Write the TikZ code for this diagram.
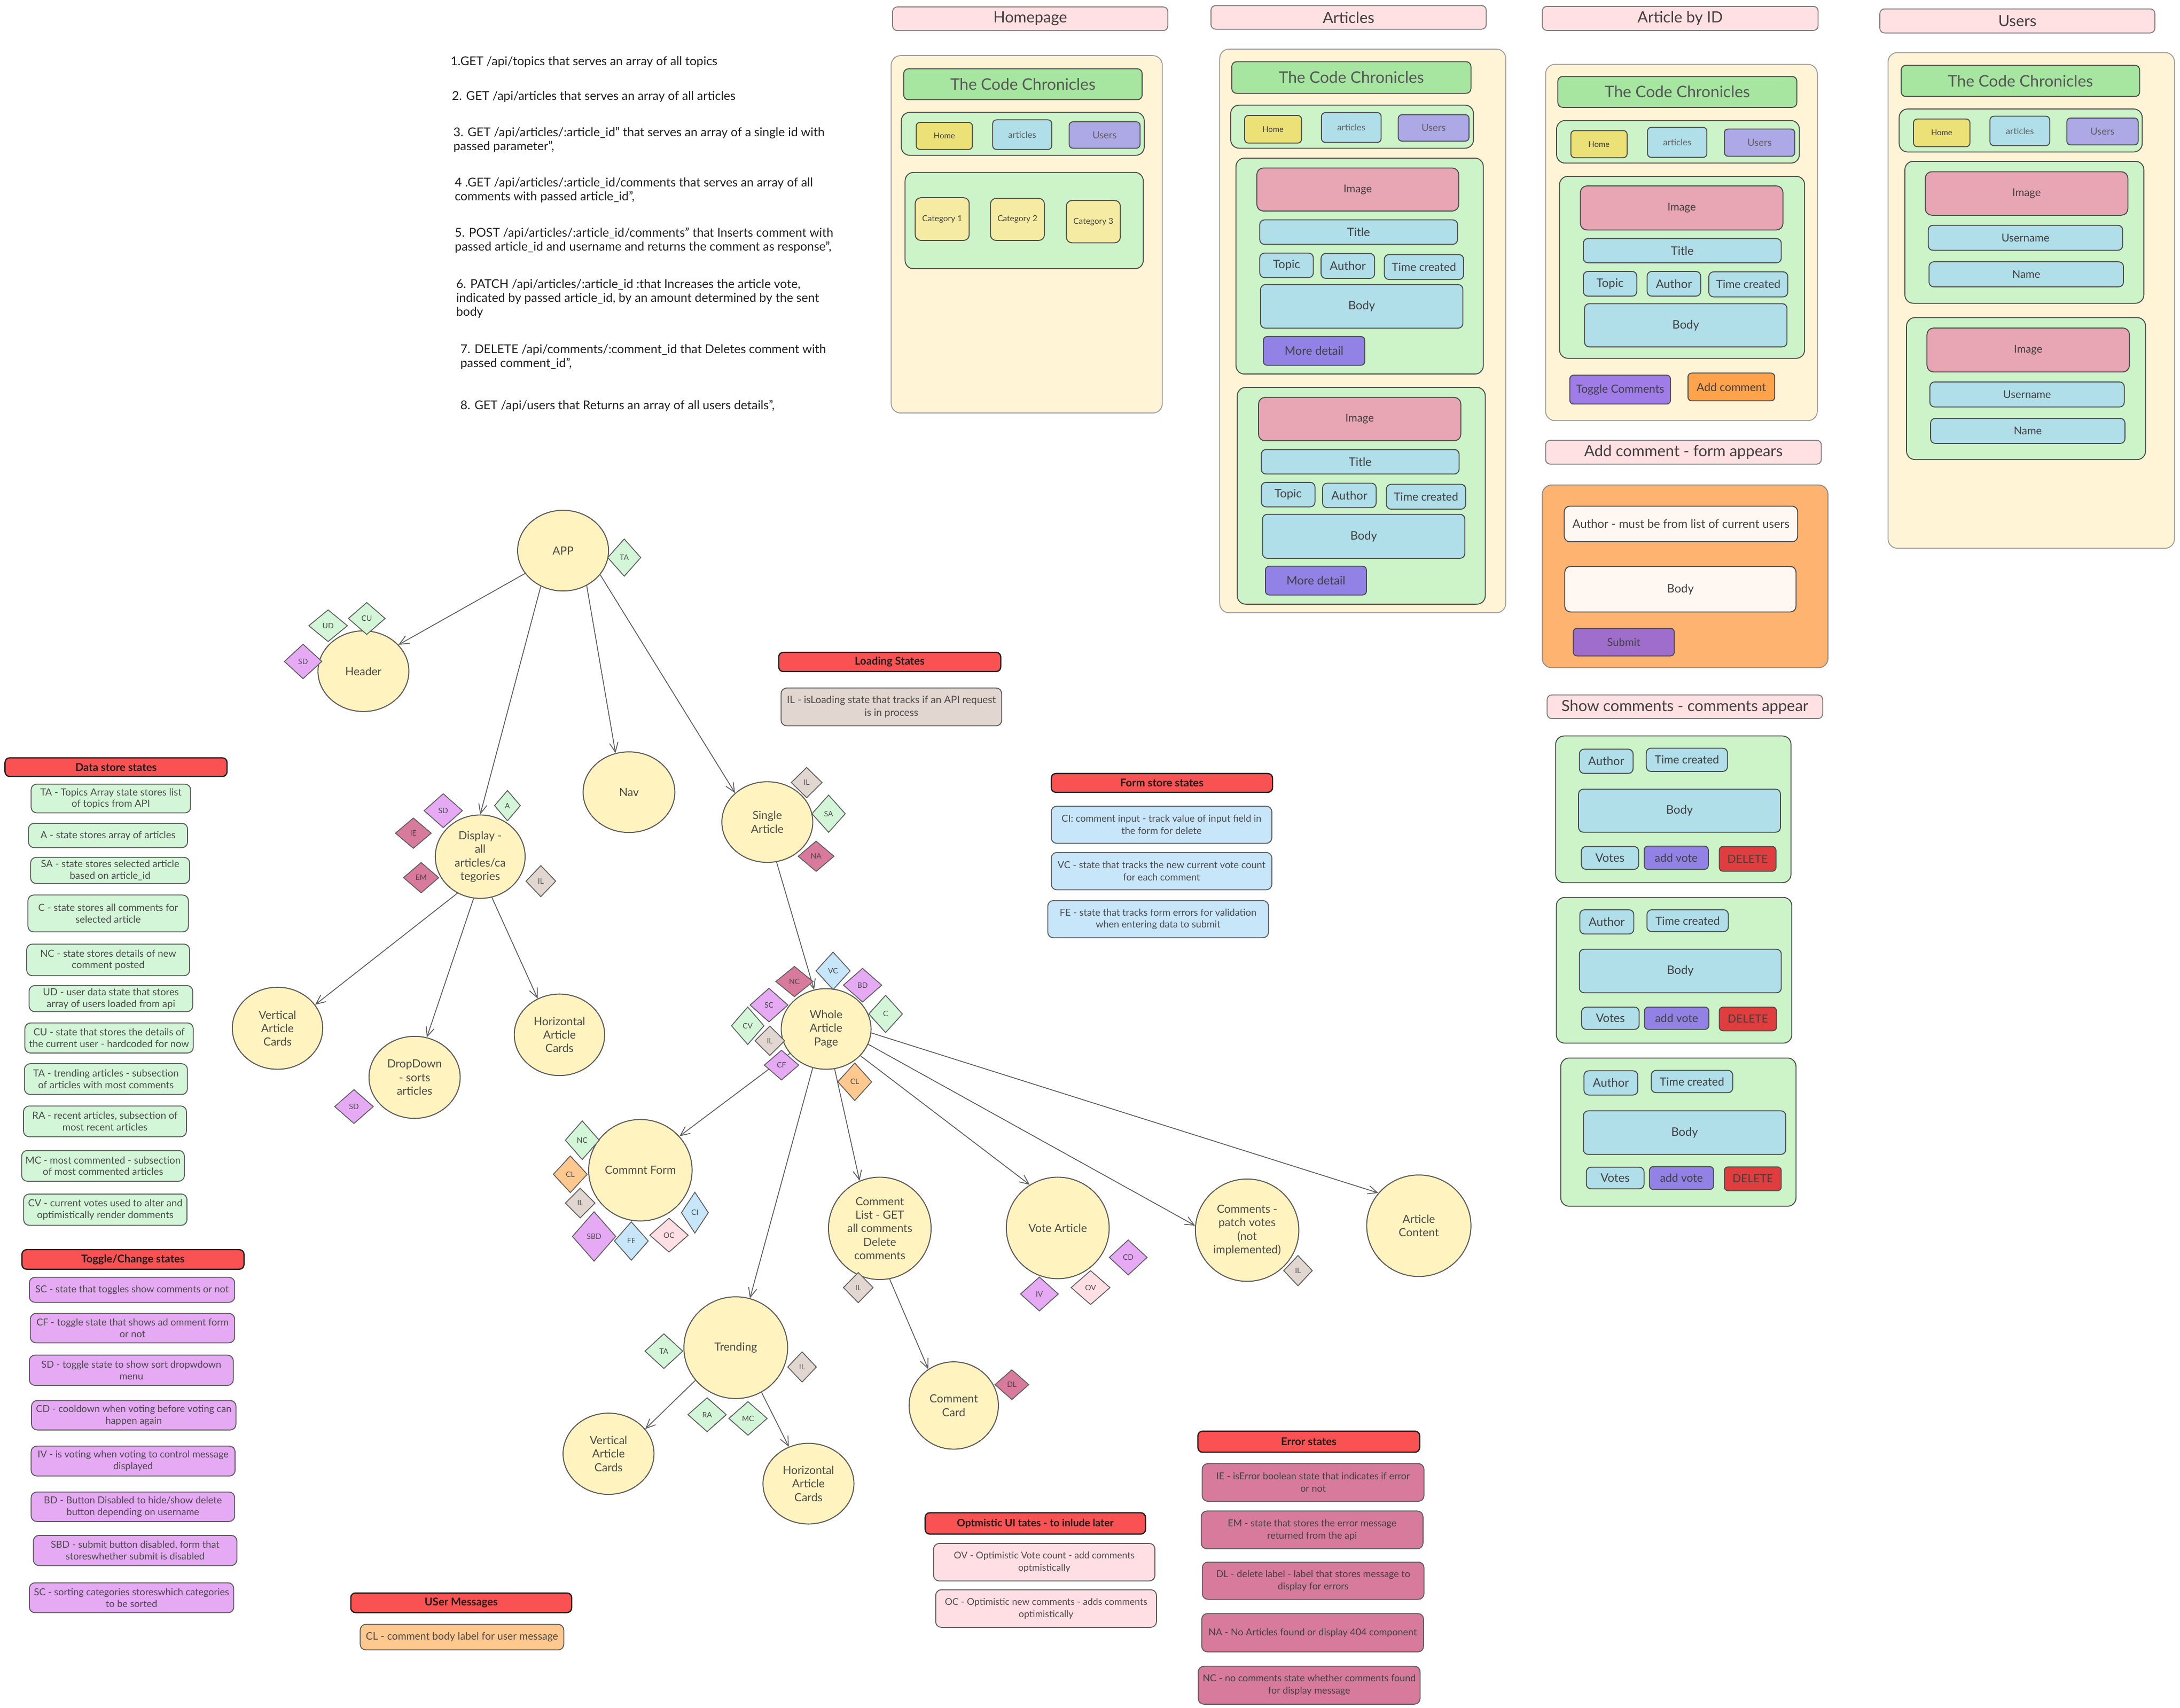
\documentclass[tikz,border=0pt]{standalone}
\usepackage{fontspec}
\setmainfont{Lato}
\usetikzlibrary{shapes.geometric,arrows.meta}
\definecolor{ink}{HTML}{1E1E1E}
\definecolor{txt}{HTML}{4A4A4A}
\definecolor{edge}{HTML}{5C5C5C}
\definecolor{compfill}{HTML}{FFF3BF}
\definecolor{gTag}{HTML}{D3F6D8}
\definecolor{pTag}{HTML}{E6A9F4}
\definecolor{rTag}{HTML}{D87A9B}
\definecolor{tTag}{HTML}{E2D6D1}
\definecolor{bTag}{HTML}{C8E6FA}
\definecolor{oTag}{HTML}{FFC88F}
\definecolor{kTag}{HTML}{FFDFE3}
\definecolor{hred}{HTML}{FA5252}
\definecolor{wtitle}{HTML}{FFE0E3}
\definecolor{wcream}{HTML}{FFF5D6}
\definecolor{whead}{HTML}{A6E6A1}
\definecolor{wgreen}{HTML}{CDF3C8}
\definecolor{whome}{HTML}{ECE176}
\definecolor{wblue}{HTML}{B0DFEA}
\definecolor{wlav}{HTML}{ADA8E6}
\definecolor{wcat}{HTML}{F6EBA2}
\definecolor{wimg}{HTML}{E8A5B3}
\definecolor{wmore}{HTML}{9382E6}
\definecolor{wtog}{HTML}{A07CE8}
\definecolor{wadd}{HTML}{FFA24C}
\definecolor{wform}{HTML}{FFB370}
\definecolor{winput}{HTML}{FFF7F2}
\definecolor{wsub}{HTML}{9F6DCC}
\definecolor{wdel}{HTML}{E03E3E}
\newcommand\pxu{0.05206cm}
\newcommand\bx[7]{\node[#2, minimum width=(#5-#3)*\pxu, minimum height=(#6-#4)*\pxu] (#1) at ({(#3+#5)/2},{(#4+#6)/2}) {#7};}
\newcommand\tg[7]{\node[tag, fill=#6, minimum width=2*#4*\pxu, minimum height=2*#5*\pxu] (#1) at (#2,#3) {#7};}
\newcommand\cp[6]{\node[comp, minimum width=2*#4*\pxu, minimum height=2*#5*\pxu] (#1) at (#2,#3) {#6};}
\tikzset{
  comp/.style={ellipse, draw=edge, fill=compfill, line width=1.1pt, inner sep=0pt, text=txt, align=center, font=\fontsize{12}{14.4}\selectfont},
  tag/.style={diamond, draw=edge, line width=0.9pt, inner sep=0pt, text=txt, font=\fontsize{8}{9}\selectfont},
  arr/.style={draw=edge, line width=0.9pt, -{Straight Barb[length=10pt,width=9pt]}},
  leg/.style={rectangle, rounded corners=6pt, draw=edge, line width=1pt, inner sep=0pt, text=txt, align=center},
  lds/.style={leg, fill=gTag, font=\fontsize{10.5}{12.3}\selectfont},
  ltg/.style={leg, fill=pTag, font=\fontsize{10.3}{12.5}\selectfont},
  lld/.style={leg, fill=tTag, font=\fontsize{10.8}{13.5}\selectfont},
  lfs/.style={leg, fill=bTag, font=\fontsize{10.3}{13}\selectfont},
  ler/.style={leg, fill=rTag, text=ink!85, font=\fontsize{10.2}{13}\selectfont},
  lop/.style={leg, fill=kTag, font=\fontsize{10}{13}\selectfont},
  lum/.style={leg, fill=oTag, font=\fontsize{11}{13}\selectfont},
  hdr/.style={rectangle, rounded corners=5pt, draw=ink, fill=hred, line width=1.3pt, inner sep=0pt, text=ink, font=\bfseries\fontsize{11.5}{13}\selectfont},
  api/.style={anchor=north west, inner sep=0pt, align=left, text=ink, font=\fontsize{13}{14.8}\selectfont},
  wf/.style={rectangle, rounded corners=5pt, draw=ink!80, line width=1pt, inner sep=0pt, text=ink!85, align=center},
  wtit/.style={wf, draw=edge!80, fill=wtitle, font=\fontsize{16.5}{18}\selectfont},
  wout/.style={wf, rounded corners=10pt, draw=edge!60, fill=wcream},
  whd/.style={wf, fill=whead, text=ink!75, font=\fontsize{17}{19}\selectfont},
  wgr/.style={wf, rounded corners=9pt, fill=wgreen},
  whm/.style={wf, rounded corners=4pt, fill=whome, font=\fontsize{8.5}{9}\selectfont},
  wat/.style={wf, rounded corners=4pt, fill=wblue, text=ink!70, font=\fontsize{9.5}{10}\selectfont},
  wus/.style={wf, rounded corners=4pt, fill=wlav, text=ink!70, font=\fontsize{10.5}{11}\selectfont},
  wct/.style={wf, rounded corners=6pt, fill=wcat, font=\fontsize{8.8}{9}\selectfont},
  wim/.style={wf, rounded corners=7pt, fill=wimg, font=\fontsize{11.5}{12}\selectfont},
  wbl/.style={wf, rounded corners=5pt, fill=wblue, font=\fontsize{12.5}{13}\selectfont},
  wtc/.style={wf, rounded corners=5pt, fill=wblue, font=\fontsize{12}{13}\selectfont},
  wmo/.style={wf, rounded corners=4pt, fill=wmore, font=\fontsize{12.5}{13}\selectfont},
  wtg/.style={wf, rounded corners=4pt, fill=wtog, font=\fontsize{12}{13}\selectfont},
  wad/.style={wf, rounded corners=4pt, fill=wadd, font=\fontsize{12}{13}\selectfont},
  wfo/.style={wf, rounded corners=10pt, draw=edge!70, fill=wform},
  win/.style={wf, rounded corners=6pt, fill=winput, font=\fontsize{12.5}{13}\selectfont},
  wsb/.style={wf, rounded corners=4pt, fill=wsub, font=\fontsize{11.5}{12}\selectfont},
  wav/.style={wf, rounded corners=4pt, fill=wmore, font=\fontsize{12}{13}\selectfont},
  wdl/.style={wf, rounded corners=4pt, fill=wdel, font=\fontsize{12}{13}\selectfont},
  wun/.style={wf, rounded corners=5pt, fill=wblue, font=\fontsize{11.5}{12}\selectfont},
}
\begin{document}
\begin{tikzpicture}[x=0.05206cm, y=-0.05206cm]
\useasboundingbox (0,0) rectangle (1568,1228.3);
\fill[white] (0,0) rectangle (1568,1228.3);

% ---------- API list ----------
\node[api] (api1) at (324,40.5) {1.GET /api/topics that serves an array of all topics};
\node[api] (api2) at (325,65.5) {2. GET /api/articles that serves an array of all articles};
\node[api] (api3) at (326,91.5) {3. GET /api/articles/:article\_id" that serves an array of a single id with\\passed parameter",};
\node[api] (api4) at (327,127.5) {4 .GET /api/articles/:article\_id/comments that serves an array of all\\comments with passed article\_id",};
\node[api] (api5) at (327,163.5) {5. POST /api/articles/:article\_id/comments" that Inserts comment with\\passed article\_id and username and returns the comment as response",};
\node[api] (api6) at (328,200.5) {6. PATCH /api/articles/:article\_id :that Increases the article vote,\\indicated by passed article\_id, by an amount determined by the sent\\body};
\node[api] (api7) at (331,247.5) {7. DELETE /api/comments/:comment\_id that Deletes comment with\\passed comment\_id",};
\node[api] (api8) at (331,287.5) {8. GET /api/users that Returns an array of all users details",};

% ---------- Homepage ----------
\bx{hpT}{wtit}{642}{5}{840}{22}{Homepage}
\bx{hpO}{wout}{641}{40}{836}{297}{}
\bx{hpH}{whd}{650}{49.5}{821.5}{71.7}{The Code Chronicles}
\bx{hpN}{wgr}{648.3}{80.8}{823}{111.7}{}
\bx{hpHome}{whm}{659}{88}{699.4}{107.5}{Home}
\bx{hpArt}{wat}{714}{86.2}{756.5}{107.5}{articles}
\bx{hpUsr}{wus}{769}{87.6}{820}{106.6}{Users}
\bx{hpC}{wgr}{651}{124}{822.3}{193.3}{}
\bx{hpC1}{wct}{658.3}{142.2}{697.1}{172.9}{Category 1}
\bx{hpC2}{wct}{712.4}{142.7}{751.2}{172.9}{Category 2}
\bx{hpC3}{wct}{767}{144.2}{805.8}{174.6}{Category 3}

% ---------- Articles ----------
\bx{arT}{wtit}{871}{4}{1069}{21}{Articles}
\bx{arO}{wout}{877.3}{35.3}{1083}{440.7}{}
\bx{arH}{whd}{886}{44.4}{1058}{67.1}{The Code Chronicles}
\bx{arN}{wgr}{885.2}{75.6}{1059.8}{106.6}{}
\bx{arHome}{whm}{895.2}{83}{936.1}{102.9}{Home}
\bx{arArt}{wat}{950.5}{81}{993.4}{102.4}{articles}
\bx{arUsr}{wus}{1005.7}{82.5}{1056.6}{101.5}{Users}
\bx{arC1}{wgr}{889}{113.7}{1066.9}{269}{}
\bx{arI1}{wim}{904}{120.8}{1049.2}{151.8}{Image}
\bx{arTi1}{wbl}{906.1}{158.1}{1048.3}{175.7}{Title}
\bx{arTo1}{wbl}{906.1}{182}{944.6}{199.6}{Topic}
\bx{arAu1}{wbl}{950.2}{182.3}{988.7}{200.2}{Author}
\bx{arTc1}{wtc}{995.7}{183.1}{1052.7}{201}{Time created}
\bx{arB1}{wbl}{906.7}{204.7}{1052.2}{236}{Body}
\bx{arM1}{wmo}{908.7}{242}{981.6}{262.7}{More detail}
\bx{arC2}{wgr}{889.9}{278.6}{1068.3}{434.5}{}
\bx{arI2}{wim}{905.2}{285.8}{1050.7}{317}{Image}
\bx{arTi2}{wbl}{907.2}{323.3}{1049.5}{340.9}{Title}
\bx{arTo2}{wbl}{907.2}{346.9}{945.8}{364.5}{Topic}
\bx{arAu2}{wbl}{951.3}{347.5}{989.8}{365.1}{Author}
\bx{arTc2}{wtc}{997.2}{348.3}{1054.2}{366.2}{Time created}
\bx{arB2}{wbl}{908.1}{369.9}{1053.6}{401.5}{Body}
\bx{arM2}{wmo}{910.2}{407.2}{982.8}{427.9}{More detail}

% ---------- Article by ID ----------
\bx{aiT}{wtit}{1109.3}{4.6}{1307.7}{21.9}{Article by ID}
\bx{aiO}{wout}{1111.7}{46.3}{1307.1}{302.5}{}
\bx{aiH}{whd}{1120.5}{55}{1292.4}{77.2}{The Code Chronicles}
\bx{aiN}{wgr}{1119.6}{86.7}{1294.2}{117.3}{}
\bx{aiHome}{whm}{1129.9}{93.9}{1170.3}{113.4}{Home}
\bx{aiArt}{wat}{1185}{91.6}{1227.7}{113.2}{articles}
\bx{aiUsr}{wus}{1240.3}{92.8}{1290.9}{112.4}{Users}
\bx{aiC}{wgr}{1121.7}{126.8}{1298}{257.7}{}
\bx{aiI}{wim}{1136.7}{133.7}{1282.4}{165.4}{Image}
\bx{aiTi}{wbl}{1138.8}{171.6}{1281.2}{189}{Title}
\bx{aiTo}{wbl}{1138.8}{195.2}{1177.3}{213}{Topic}
\bx{aiAu}{wbl}{1184.7}{195.2}{1223.2}{213}{Author}
\bx{aiTc}{wtc}{1229.1}{195.5}{1285.9}{213.5}{Time created}
\bx{aiB}{wbl}{1139.7}{218.4}{1285.3}{249.5}{Body}
\bx{aiTog}{wtg}{1129.1}{269.8}{1201.5}{290.6}{Toggle Comments}
\bx{aiAdd}{wad}{1214.1}{268.3}{1276.5}{288.3}{Add comment}

% ---------- Add comment form ----------
\bx{acT}{wtit}{1111.7}{316.6}{1310}{333.8}{Add comment - form appears}
\bx{acO}{wfo}{1109.3}{348.8}{1314.8}{480.2}{}
\bx{acA}{win}{1125.1}{364}{1293}{389.6}{Author - must be from list of current users}
\bx{acB}{win}{1125.5}{407.4}{1291.8}{440.1}{Body}
\bx{acS}{wsb}{1131.6}{451.8}{1204.2}{471.7}{Submit}

% ---------- Show comments ----------
\bx{scT}{wtit}{1112.8}{499.8}{1311}{516.8}{Show comments - comments appear}
\bx{sc1}{wgr}{1118.9}{529.3}{1288.2}{634.8}{}
\bx{sc1a}{wbl}{1136}{538.8}{1174.6}{556.2}{Author}
\bx{sc1t}{wtc}{1184.1}{538.1}{1242.5}{554.8}{Time created}
\bx{sc1b}{wbl}{1135.4}{567.6}{1280.6}{598.5}{Body}
\bx{sc1v}{wbl}{1137.4}{608.8}{1178.6}{625.2}{Votes}
\bx{sc1p}{wav}{1182.6}{608.5}{1228.7}{625.2}{add vote}
\bx{sc1d}{wdl}{1236.6}{608.8}{1277.4}{626.6}{DELETE}
\bx{sc2}{wgr}{1119.4}{645.4}{1288.8}{750.2}{}
\bx{sc2a}{wbl}{1136.3}{654.3}{1175.1}{671.7}{Author}
\bx{sc2t}{wtc}{1184.6}{654.3}{1243.1}{670}{Time created}
\bx{sc2b}{wbl}{1136}{682.7}{1281.2}{714}{Body}
\bx{sc2v}{wbl}{1137.6}{724.3}{1179}{740.3}{Votes}
\bx{sc2p}{wav}{1182.8}{724.3}{1229.1}{740.3}{add vote}
\bx{sc2d}{wdl}{1236.6}{724.3}{1277.8}{741.3}{DELETE}
\bx{sc3}{wgr}{1122.6}{760.9}{1291.8}{867.5}{}
\bx{sc3a}{wbl}{1139.3}{770.1}{1178}{787.5}{Author}
\bx{sc3t}{wtc}{1187.7}{769.8}{1246.3}{785.8}{Time created}
\bx{sc3b}{wbl}{1138.9}{798.9}{1284.4}{830.2}{Body}
\bx{sc3v}{wbl}{1141}{839.4}{1182.5}{855}{Votes}
\bx{sc3p}{wav}{1186.4}{839}{1232.5}{855.4}{add vote}
\bx{sc3d}{wdl}{1240.2}{839.2}{1281.2}{856.3}{DELETE}

% ---------- Users ----------
\bx{usT}{wtit}{1352.1}{6.4}{1549.9}{23.7}{Users}
\bx{usO}{wout}{1358}{37.8}{1564}{394.3}{}
\bx{usH}{whd}{1367.4}{47}{1539}{69.4}{The Code Chronicles}
\bx{usN}{wgr}{1366}{78.4}{1540.8}{109.3}{}
\bx{usHome}{whm}{1376.3}{85.6}{1416.9}{105.5}{Home}
\bx{usArt}{wat}{1431.3}{83.6}{1474.3}{104.7}{articles}
\bx{usUsr}{wus}{1486.6}{84.9}{1537.9}{104.2}{Users}
\bx{usC1}{wgr}{1370.1}{116}{1542}{218.1}{}
\bx{usI1}{wim}{1384.8}{123.5}{1530.5}{154.8}{Image}
\bx{usU1}{wun}{1386.9}{162}{1526.7}{180}{Username}
\bx{usN1}{wun}{1387.5}{188.3}{1527.3}{206.3}{Name}
\bx{usC2}{wgr}{1371.3}{228.4}{1543.2}{330.5}{}
\bx{usI2}{wim}{1386}{235.9}{1531.6}{267.5}{Image}
\bx{usU2}{wun}{1388.1}{274.7}{1527.9}{292.7}{Username}
\bx{usN2}{wun}{1388.6}{300.9}{1528.4}{318.9}{Name}

% ---------- Legends ----------
\bx{dsH}{hdr}{3.6}{545}{163.3}{558.4}{Data store states}
\bx{ds1}{lds}{22.4}{563.9}{137.1}{584.6}{TA - Topics Array state stores list\\of topics from API}
\bx{ds2}{lds}{20.5}{592.1}{134.9}{609.6}{A - state stores array of articles}
\bx{ds3}{lds}{22}{616.6}{136.4}{635.4}{SA - state stores selected article\\based on article\_id}
\bx{ds4}{lds}{20.1}{643.7}{135.5}{670.2}{C - state stores all comments for\\selected article}
\bx{ds5}{lds}{19.2}{679}{136.4}{701.7}{NC - state stores details of new\\comment posted}
\bx{ds6}{lds}{20.9}{708.8}{138.6}{727.5}{UD - user data state that stores\\array of users loaded from api}
\bx{ds7}{lds}{17.9}{735.7}{139}{757.3}{CU - state that stores the details of\\the current user - hardcoded for now}
\bx{ds8}{lds}{17.6}{765}{134.8}{787.1}{TA - trending articles - subsection\\of articles with most comments}
\bx{ds9}{lds}{16.9}{795.4}{134.1}{817.5}{RA - recent articles, subsection of\\most recent articles}
\bx{ds10}{lds}{15.6}{827.4}{132.6}{849.5}{MC - most commented - subsection\\of most commented articles}
\bx{ds11}{lds}{17}{858.7}{134.5}{881.2}{CV - current votes used to alter and\\optimistically render domments}

\bx{tgH}{hdr}{15.8}{898.7}{175.5}{912.8}{Toggle/Change states}
\bx{tg1}{ltg}{21.1}{918.6}{168.8}{936.6}{SC - state that toggles show comments or not}
\bx{tg2}{ltg}{21.8}{944.6}{168.8}{965.7}{CF - toggle state that shows ad omment form\\or not}
\bx{tg3}{ltg}{21.1}{974.6}{167.8}{996.3}{SD - toggle state to show sort dropwdown\\menu}
\bx{tg4}{ltg}{22.7}{1007.2}{169.7}{1028.4}{CD - cooldown when voting before voting can\\happen again}
\bx{tg5}{ltg}{22.4}{1040}{169.1}{1061.5}{IV - is voting when voting to control message\\displayed}
\bx{tg6}{ltg}{22.4}{1073}{168.8}{1094.2}{BD - Button Disabled to hide/show delete\\button depending on username}
\bx{tg7}{ltg}{24}{1104.2}{170.4}{1125.9}{SBD - submit button disabled, form that\\storeswhether submit is disabled}
\bx{tg8}{ltg}{21.1}{1138.3}{168.1}{1159.8}{SC - sorting categories storeswhich categories\\to be sorted}

\bx{ldH}{hdr}{560.1}{469.1}{719.8}{483}{Loading States}
\bx{ld1}{lld}{561.8}{494.8}{720.5}{522}{IL - isLoading state that tracks if an API request\\is in process}

\bx{fsH}{hdr}{756.1}{556.3}{915.3}{569.8}{Form store states}
\bx{fs1}{lfs}{756.1}{579.8}{914.8}{606.5}{CI: comment input - track value of input field in\\the form for delete}
\bx{fs2}{lfs}{756.1}{613.1}{914.8}{639.9}{VC - state that tracks the new current vote count\\for each comment}
\bx{fs3}{lfs}{753.6}{647.7}{912.4}{674.4}{FE - state that tracks form errors for validation\\when entering data to submit}

\bx{erH}{hdr}{861.6}{1029.2}{1021.1}{1044.4}{Error states}
\bx{er1}{ler}{864.7}{1052.6}{1024.2}{1079.7}{IE - isError boolean state that indicates if error\\or not}
\bx{er2}{ler}{864}{1086.7}{1023.5}{1113.8}{EM - state that stores the error message\\returned from the api}
\bx{er3}{ler}{864.8}{1123.4}{1024.2}{1150.2}{DL - delete label - label that stores message to\\display for errors}
\bx{er4}{ler}{864.4}{1160.4}{1023.9}{1188}{NA - No Articles found or display 404 component}
\bx{er5}{ler}{861.9}{1198.3}{1021.4}{1225.6}{NC - no comments state whether comments found\\for display message}

\bx{opH}{hdr,font=\bfseries\fontsize{11}{13}\selectfont}{665.4}{1087.9}{823.9}{1103.3}{Optmistic UI tates - to inlude later}
\bx{op1}{lop}{671.5}{1110}{830.7}{1137}{OV - Optimistic Vote count - add comments\\optmistically}
\bx{op2}{lop}{673}{1143.3}{831.8}{1170.3}{OC - Optimistic new comments - adds comments\\optimistically}

\bx{umH}{hdr}{252.3}{1145.6}{411.2}{1159.7}{USer Messages}
\bx{um1}{lum}{259.1}{1168.2}{405.5}{1186.6}{CL - comment body label for user message}

% ---------- Component tree ----------
\cp{app}{405}{396}{32.7}{29}{APP}
\cp{header}{261.4}{482.7}{32.7}{29}{Header}
\cp{display}{345.4}{616.1}{32.3}{30}{Display -\\all\\articles/ca\\tegories}
\cp{nav}{452.4}{569.7}{33}{29}{Nav}
\cp{single}{551.9}{591.2}{32.7}{29}{Single\\Article}
\cp{vert1}{199.6}{739.5}{32.5}{29.5}{Vertical\\Article\\Cards}
\cp{drop}{298.2}{774.8}{32.8}{29.5}{DropDown\\- sorts\\articles}
\cp{horiz1}{402.4}{744.2}{32.5}{29.3}{Horizontal\\Article\\Cards}
\cp{whole}{594.2}{740}{32.3}{29}{Whole\\Article\\Page}
\cp{form}{460.6}{841.6}{37.2}{36.5}{Commnt Form}
\cp{list}{632.8}{883.4}{36.9}{36.8}{Comment\\List - GET\\all comments\\Delete\\comments}
\cp{vote}{760.8}{883.1}{37}{36.5}{Vote Article}
\cp{patch}{897}{884.7}{37.2}{36.8}{Comments -\\patch votes\\(not\\implemented)}
\cp{content}{1020.5}{881.5}{37.5}{36.5}{Article\\Content}
\cp{trending}{529.2}{969.2}{37.3}{36.6}{Trending}
\cp{vert2}{437.7}{1045.5}{32.7}{29.2}{Vertical\\Article\\Cards}
\cp{horiz2}{581.5}{1067}{32.7}{29}{Horizontal\\Article\\Cards}
\cp{card}{686}{1010.8}{32.1}{31.4}{Comment\\Card}

% arrows
\draw[arr] (app.211) -- (header.37);
\draw[arr] (app.238) -- (display.90);
\draw[arr] (app.304) -- (nav.109);
\draw[arr] (app.327) -- (single.138);
\draw[arr] (display.238) -- (vert1.32);
\draw[arr] (display.261) -- (drop.73);
\draw[arr] (display.286) -- (horiz1.121);
\draw[arr] (single.283) -- (whole.107);
\draw[arr] (whole.214) -- (form.41);
\draw[arr] (whole.251) -- (trending.74);
\draw[arr] (whole.282) -- (list.113);
\draw[arr] (whole.322) -- (vote.123);
\draw[arr] (whole.340) -- (patch.175);
\draw[arr] (whole.355) -- (content.141);
\draw[arr] (list.281) -- (card.125);
\draw[arr] (trending.219) -- (vert2.34);
\draw[arr] (trending.300) -- (horiz2.118);

% state tags
\tg{tAppTA}{449}{401}{12}{13.5}{gTag}{TA}
\tg{tHdUD}{236}{450}{14}{11.5}{gTag}{UD}
\tg{tHdCU}{263.8}{444.8}{13.3}{11.6}{gTag}{CU}
\tg{tHdSD}{218}{475.7}{13.6}{12.5}{pTag}{SD}
\tg{tDiSD}{318.8}{583}{13.9}{12.3}{pTag}{SD}
\tg{tDiA}{365}{579.4}{9.4}{11}{gTag}{A}
\tg{tDiIE}{297.3}{599.2}{13}{11}{rTag}{IE}
\tg{tDiEM}{302.9}{631.2}{12.8}{11}{rTag}{EM}
\tg{tDiIL}{389}{633.7}{10.8}{11.3}{tTag}{IL}
\tg{tSiIL}{580.2}{562.8}{11.2}{11}{tTag}{IL}
\tg{tSiSA}{596}{585.2}{12.1}{13.5}{gTag}{SA}
\tg{tSiNA}{587}{615.8}{13}{11}{rTag}{NA}
\tg{tDdSD}{254.6}{795.8}{14}{12.3}{pTag}{SD}
\tg{tWhNC}{571.4}{705.9}{13.5}{11}{rTag}{NC}
\tg{tWhVC}{599.2}{698.2}{12.4}{13.6}{bTag}{VC}
\tg{tWhBD}{620.4}{708.5}{13.9}{12.2}{pTag}{BD}
\tg{tWhC}{637}{729.2}{12.2}{13.5}{gTag}{C}
\tg{tWhSC}{553.1}{722.8}{13.7}{12.2}{pTag}{SC}
\tg{tWhCV}{537.8}{737.7}{11.8}{13.6}{gTag}{CV}
\tg{tWhIL}{553.7}{748.5}{10.8}{10.7}{tTag}{IL}
\tg{tWhCF}{562.1}{766}{12.5}{10.8}{pTag}{CF}
\tg{tWhCL}{614.8}{778}{12.3}{13.6}{oTag}{CL}
\tg{tFoNC}{418.8}{820}{12.3}{14}{gTag}{NC}
\tg{tFoCL}{410.2}{844.5}{12.3}{13.3}{oTag}{CL}
\tg{tFoIL}{417.3}{865.2}{10.8}{10.8}{tTag}{IL}
\tg{tFoSBD}{427.3}{889.2}{15.7}{17.9}{pTag}{SBD}
\tg{tFoFE}{454.1}{892.5}{12.3}{13.9}{bTag}{FE}
\tg{tFoOC}{481.2}{888.3}{13.9}{12.3}{kTag}{OC}
\tg{tFoCI}{499.8}{872.1}{9.8}{14.8}{bTag}{CI}
\tg{tLiIL}{617.3}{926}{10.8}{11}{tTag}{IL}
\tg{tVoCD}{811.5}{904.3}{13.7}{12.7}{pTag}{CD}
\tg{tVoIV}{747.6}{930.6}{13.7}{12.3}{pTag}{IV}
\tg{tVoOV}{784.4}{926}{14.1}{12.3}{kTag}{OV}
\tg{tPaIL}{933.6}{913.8}{10.4}{11}{tTag}{IL}
\tg{tTrTA}{477.5}{971.7}{13.7}{12.6}{gTag}{TA}
\tg{tTrIL}{576.9}{983.1}{10.4}{11}{tTag}{IL}
\tg{tTrRA}{508.6}{1017.4}{13.9}{12.3}{gTag}{RA}
\tg{tTrMC}{538}{1020.1}{13.9}{12.2}{gTag}{MC}
\tg{tCaDL}{727.8}{995.8}{12.3}{10.8}{rTag}{DL}
\end{tikzpicture}
\end{document}
